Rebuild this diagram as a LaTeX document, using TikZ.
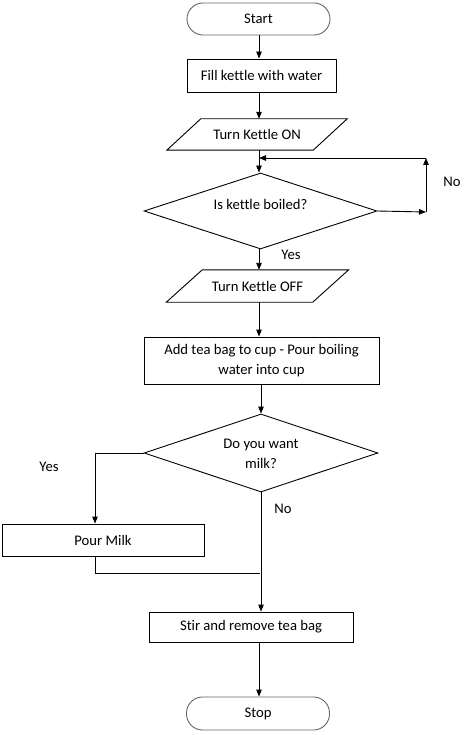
\documentclass[tikz,border=0pt]{standalone}
\usepackage{fontspec}
\setmainfont[Ligatures={NoCommon}]{Carlito}
\usetikzlibrary{shapes.geometric,arrows.meta,calc}
\tikzset{
  every node/.style={font=\fontsize{14.67}{20}\selectfont, text=black},
  conn/.style={line width=0.9pt, draw=black},
  arr/.style={conn, -{Triangle[length=7pt,width=5.5pt]}},
  term/.style={draw=black!60, line width=0.9pt, rounded corners=16pt, minimum width=143pt, minimum height=32pt, inner sep=0pt},
  procbox/.style={draw=black, line width=0.9pt, inner sep=0pt, align=center},
  iobox/.style={inner sep=0pt, minimum width=146pt, minimum height=31pt},
  decide/.style={draw=black, line width=0.9pt, diamond, aspect=3.07, inner sep=0pt, align=center},
  lbl/.style={inner sep=0pt}
}
\begin{document}
\begin{tikzpicture}[x=1pt,y=-1pt]
\useasboundingbox (0,0) rectangle (465,735);
% nodes
\node[term] (start) at (258.5,19) {Start};
\node[procbox, minimum width=149pt, minimum height=33pt] (fill) at (261.5,75.5) {Fill kettle with water};
\node[iobox] (on) at (257,134.5) {Turn Kettle ON};
\node[decide, minimum width=233pt, minimum height=76pt] (boil) at (260.5,211) {};
\node[inner sep=0pt] (boiltxt) at (260.5,204) {Is kettle boiled?};
\node[iobox, minimum height=32pt] (off) at (257.5,286) {Turn Kettle OFF};
\node[procbox, minimum width=235pt, minimum height=47pt] (add) at (261.5,360.5) {Add tea bag to cup - Pour boiling\\water into cup};
\node[decide, minimum width=234pt, minimum height=78pt] (milk) at (261,453) {};
\node[align=center, inner sep=0pt] (milktxt) at (261,454) {Do you want\\milk?};
\node[procbox, minimum width=202pt, minimum height=32pt] (pour) at (103,540) {Pour Milk};
\node[procbox, minimum width=204pt, minimum height=30pt] (stir) at (251,627) {Stir and remove tea bag};
\node[term, minimum height=33pt] (stop) at (258,713.5) {Stop};
% parallelograms
\draw[conn] ($(on.south west)+(-17,0)$) -- ($(on.north west)+(17,0)$) -- ($(on.north east)+(17,0)$) -- ($(on.south east)+(-17,0)$) -- cycle;
\draw[conn] ($(off.south west)+(-18,0)$) -- ($(off.north west)+(18,0)$) -- ($(off.north east)+(18,0)$) -- ($(off.south east)+(-18,0)$) -- cycle;
% coordinates
\coordinate (nr) at (426,212);
\coordinate (nt) at (426,158);
\coordinate (nl) at (259,158);
\coordinate (yc) at (95,453);
\coordinate (jn) at (260,573);
% connectors
\draw[arr] (start.south -| nl) -- (fill.north -| nl);
\draw[arr] (fill.south -| nl) -- (on.north -| nl);
\draw[arr] (on.south -| nl) -- (boil.north -| nl);
\draw[arr] (boil.east) -- (nr);
\draw[arr] (nr) -- (nt);
\draw[arr] (nt) -- (nl);
\draw[arr] (boil.south -| nl) -- (off.north -| nl);
\draw[arr] (off.south -| nl) -- (add.north -| nl);
\draw[arr] (add.south -| milk.north) -- (milk.north);
\draw[conn] (milk.west) -- (yc);
\draw[arr] (yc) -- (yc |- pour.north);
\draw[conn] (yc |- pour.south) |- (jn);
\draw[arr] (milk.south) -- (milk.south |- stir.north);
\draw[arr] (stir.south -| nl) -- (stop.north -| nl);
% labels
\node[lbl] (lno1) at (452,182) {No};
\node[lbl] (lyes1) at (291,255) {Yes};
\node[lbl] (lyes2) at (49,467) {Yes};
\node[lbl] (lno2) at (283,509) {No};
\end{tikzpicture}
\end{document}
